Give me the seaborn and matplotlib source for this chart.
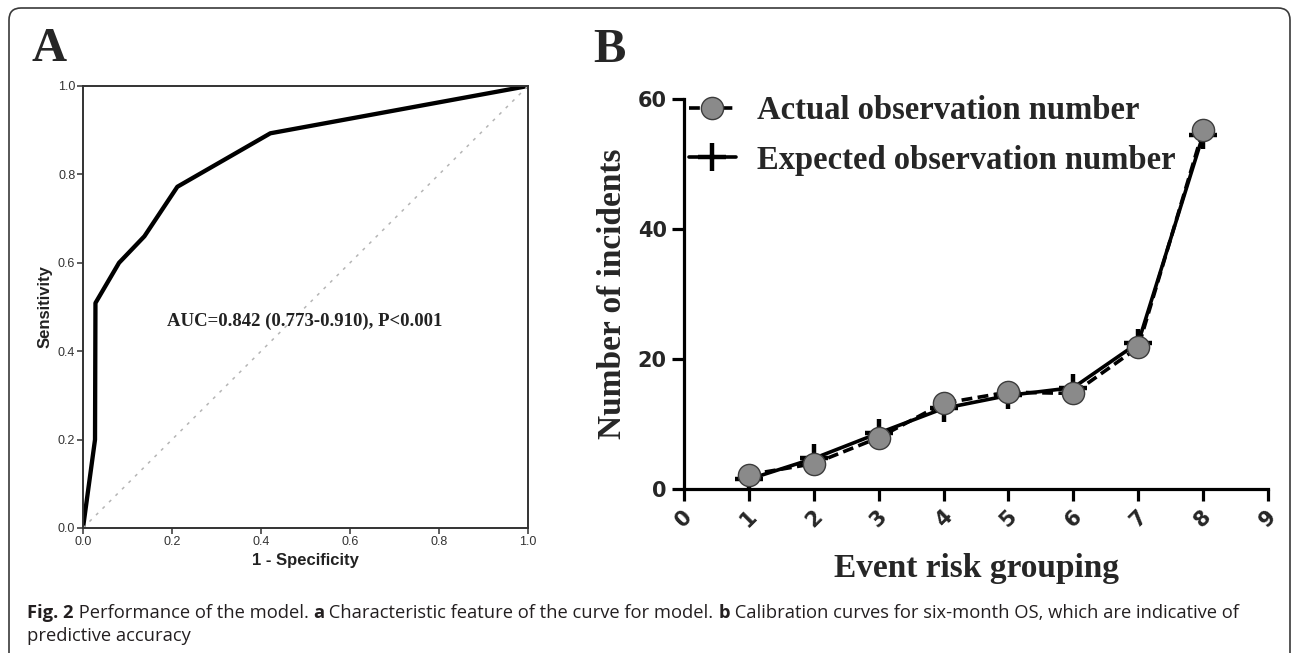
import numpy as np
import pandas as pd
import matplotlib
matplotlib.use('Agg')
import matplotlib.pyplot as plt
import seaborn as sns
from matplotlib.patches import FancyBboxPatch
from matplotlib.transforms import IdentityTransform
from matplotlib.lines import Line2D
from matplotlib.ticker import FormatStrFormatter

# Panel A: ROC curve points
roc_fpr = [0.0, 0.027, 0.028, 0.081, 0.138, 0.212, 0.421, 1.0]
roc_tpr = [0.0, 0.20, 0.509, 0.60, 0.66, 0.772, 0.893, 1.0]
auc_text = 'AUC=0.842 (0.773-0.910), P<0.001'

# Panel B: calibration
risk_group = [1, 2, 3, 4, 5, 6, 7, 8]
actual_obs = [2.2, 3.9, 7.9, 13.2, 14.9, 14.7, 21.8, 55.2]
expected_obs = [1.5, 4.7, 8.6, 12.4, 14.4, 15.6, 22.5, 54.5]
legend_labels = ['Actual observation number', 'Expected observation number']

caption_line1 = [('Fig. 2', 'bold'), (' Performance of the model. ', 'normal'), ('a', 'bold'),
                 (' Characteristic feature of the curve for model. ', 'normal'), ('b', 'bold'),
                 (' Calibration curves for six-month OS, which are indicative of', 'normal')]
caption_line2 = [('predictive accuracy', 'normal')]

sns.set_theme(style='ticks')
plt.rcParams['font.family'] = ['Liberation Sans', 'DejaVu Sans']
SERIF = ['Liberation Serif', 'DejaVu Serif']
CAPTION = ['Open Sans', 'DejaVu Sans']

W, H = 1292, 653
fig = plt.figure(figsize=(W / 100, H / 100), dpi=100)


def px_axes(x0, y0, x1, y1):
    return fig.add_axes([x0 / W, 1 - y1 / H, (x1 - x0) / W, (y1 - y0) / H])


# outer rounded frame
fig.add_artist(FancyBboxPatch((9, -30), 1281, 645 + 30, boxstyle='round,pad=0,rounding_size=12',
                              transform=IdentityTransform(), fill=False, ec='#3a3a3a', lw=1.2))

# ---- panel A ----
ax1 = px_axes(83, 86, 528, 528)
sns.lineplot(x=roc_fpr, y=roc_tpr, ax=ax1, color='black', lw=3.1, sort=False, estimator=None)
ax1.axline((0, 0), slope=1, color='#b5b5b5', lw=1.1, ls=(0, (2, 4)))
ax1.set_xlim(0, 1)
ax1.set_ylim(0, 1)
ax1.set_xticks(np.arange(0, 1.01, 0.2))
ax1.set_yticks(np.arange(0, 1.01, 0.2))
ax1.xaxis.set_major_formatter(FormatStrFormatter('%.1f'))
ax1.yaxis.set_major_formatter(FormatStrFormatter('%.1f'))
ax1.tick_params(labelsize=9, labelcolor='#333333', length=4, width=1.1, color='#333333', pad=1.5)
for s in ax1.spines.values():
    s.set_visible(True)
    s.set_linewidth(1.4)
    s.set_color('#333333')
ax1.set_xlabel('1 - Specificity', fontsize=12, fontweight='bold', labelpad=4, color='#222222')
ax1.set_ylabel('Sensitivity', fontsize=12, fontweight='bold', labelpad=4, color='#222222')
ax1.text(0.498, 0.468, auc_text, fontsize=13.5, fontweight='bold', family=SERIF,
         ha='center', va='center', color='#222222')
fig.text(32 / W, 1 - 61 / H, 'A', fontsize=35, fontweight='bold', family=SERIF, va='baseline')

# ---- panel B ----
ax2 = px_axes(684, 99, 1268, 489)
df = pd.DataFrame({'group': risk_group, 'actual': actual_obs, 'expected': expected_obs})
sns.lineplot(data=df, x='group', y='expected', ax=ax2, color='black', lw=2.6, marker='+',
             markersize=20, mew=3.2, mec='black')
sns.lineplot(data=df, x='group', y='actual', ax=ax2, color='black', lw=2.6, ls=(0, (3, 1.5)),
             marker='o', markersize=16, mfc='#8a8a8a', mec='#3c3c3c', mew=1.0)
ax2.set_xlim(0, 9)
ax2.set_ylim(0, 60)
ax2.set_xticks(range(0, 10))
ax2.set_yticks([0, 20, 40, 60])
sns.despine(ax=ax2)
for s in ['left', 'bottom']:
    ax2.spines[s].set_linewidth(2.3)
    ax2.spines[s].set_color('black')
ax2.tick_params(length=8.5, width=2.3, color='black', labelsize=15, pad=4)
for lab in ax2.get_xticklabels() + ax2.get_yticklabels():
    lab.set_fontweight('bold')
    lab.set_family('DejaVu Sans')
for lab in ax2.get_xticklabels():
    lab.set_rotation(45)
    lab.set_ha('center')
ax2.set_xlabel('Event risk grouping', fontsize=24, fontweight='bold', family=SERIF, labelpad=16)
ax2.set_ylabel('Number of incidents', fontsize=24, fontweight='bold', family=SERIF, labelpad=7)
handles = [Line2D([], [], color='black', lw=2.6, ls=(0, (3, 1.5)), marker='o', markersize=16,
                  mfc='#8a8a8a', mec='#3c3c3c'),
           Line2D([], [], color='black', lw=2.6, marker='+', markersize=20, mew=3.2)]
ax2.legend(handles, legend_labels, loc='upper left', bbox_to_anchor=(0.008, 1.01), frameon=False,
           handlelength=1.45, handletextpad=0.65, labelspacing=0.57, borderaxespad=0, borderpad=0,
           prop={'family': SERIF, 'weight': 'bold', 'size': 23.5})
fig.text(593 / W, 1 - 62 / H, 'B', fontsize=35, fontweight='bold', family=SERIF, va='baseline')

# ---- caption ----
renderer = fig.canvas.get_renderer()


def draw_line(parts, x_px, y_px):
    x = x_px
    for txt, weight in parts:
        t = fig.text(x / W, 1 - y_px / H, txt, fontsize=13.2, fontweight=weight, family=CAPTION,
                     color='#231f20', va='center')
        x += t.get_window_extent(renderer).width


draw_line(caption_line1, 27, 613)
draw_line(caption_line2, 27, 636)

fig.savefig('out.png', dpi=100)
